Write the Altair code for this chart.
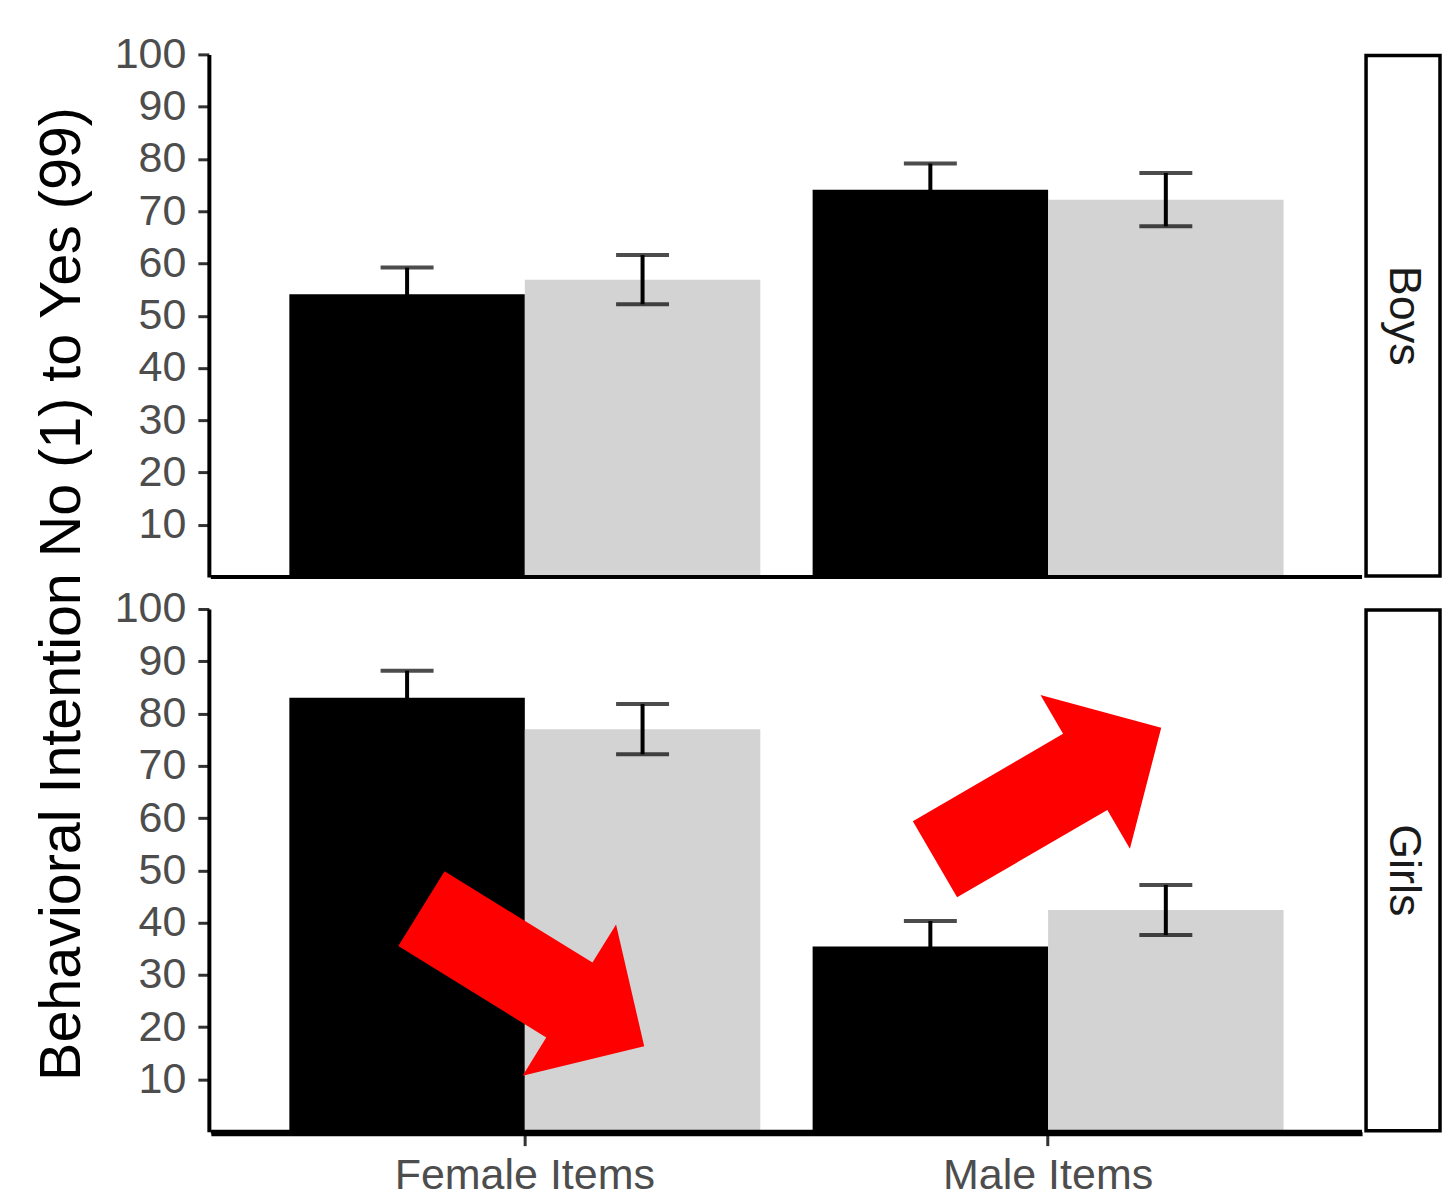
import altair as alt
import pandas as pd

# ---- data ----
panels = ["Boys", "Girls"]
items = ["Female Items", "Male Items"]
groups = ["Control", "Intervention"]          # black, light grey

# order: (Female, Control), (Female, Intervention), (Male, Control), (Male, Intervention)
boys_mean = [54.1, 56.9, 74.1, 72.2]
boys_se = [5.1, 4.7, 5.0, 5.1]
girls_mean = [83.0, 77.0, 35.4, 42.4]
girls_se = [5.2, 4.8, 4.9, 4.8]

# red annotation arrows (girls panel): anchored at item, y value
arrow_items = ["Female Items", "Male Items"]
arrow_y = [29.5, 64.7]

rows = []
for panel, means, ses in [("Boys", boys_mean, boys_se), ("Girls", girls_mean, girls_se)]:
    k = 0
    for it in items:
        for g in groups:
            m, s = means[k], ses[k]
            rows.append(dict(kind="bar", sex=panel, item=it, group=g, mean=m,
                             lo=m - s, hi=m + s))
            k += 1
for i, (it, yv) in enumerate(zip(arrow_items, arrow_y)):
    rows.append(dict(kind=f"arrow{i+1}", sex="Girls", item=it, group=groups[0],
                     mean=yv, lo=yv, hi=yv))
df = pd.DataFrame(rows)

W, H = 1152, 523
YTITLE = "Behavioral Intention No (1) to Yes (99)"

xenc = alt.X("item:N", title=None, sort=items,
             scale=alt.Scale(paddingInner=0.1, paddingOuter=0.15),
             axis=alt.Axis(labelAngle=0, tickSize=12, labelPadding=9, labelLimit=0))
xoff = alt.XOffset("group:N", sort=groups, scale=alt.Scale(paddingInner=0, paddingOuter=0))
yscale = alt.Scale(domain=[0, 100], nice=False, zero=False)
yaxis = alt.Axis(values=list(range(10, 101, 10)), title=None)

is_bar = "datum.kind == 'bar'"

bars = alt.Chart().mark_bar().encode(
    x=xenc, xOffset=xoff,
    y=alt.Y("mean:Q", scale=yscale, axis=yaxis, title=None),
    color=alt.Color("group:N", sort=groups,
                    scale=alt.Scale(domain=groups, range=["#000000", "#d3d3d3"]),
                    legend=None),
).transform_filter(is_bar)

err = alt.Chart().mark_rule(color="black", strokeWidth=4).encode(
    x=xenc, xOffset=xoff,
    y=alt.Y("lo:Q", scale=yscale, title=None), y2="hi:Q",
).transform_filter(is_bar)

cap_hi = alt.Chart().mark_tick(color="black", size=53, thickness=4, orient="horizontal").encode(
    x=xenc, xOffset=xoff, y=alt.Y("hi:Q", scale=yscale, title=None),
).transform_filter(is_bar)

cap_lo = alt.Chart().mark_tick(color="black", size=53, thickness=4, orient="horizontal").encode(
    x=xenc, xOffset=xoff, y=alt.Y("lo:Q", scale=yscale, title=None),
).transform_filter(is_bar)

one = "datum.kind == 'bar' && datum.item == 'Female Items' && datum.group == 'Control'"

baseline = alt.Chart().mark_rule(color="black", strokeWidth=4).encode(
    y=alt.Y("zero:Q", scale=yscale, title=None),
).transform_calculate(zero="0").transform_filter(one)

ARROW = "M-1,-0.336 L0.328,-0.336 L0.328,-0.679 L1,0 L0.328,0.679 L0.328,0.336 L-1,0.336 Z"

arrow1 = alt.Chart().mark_point(shape=ARROW, size=68644, angle=31.7, filled=True,
                                color="#ff0000", opacity=1, strokeWidth=0, xOffset=8).encode(
    x=xenc, y=alt.Y("mean:Q", scale=yscale, title=None),
).transform_filter("datum.kind == 'arrow1'")

arrow2 = alt.Chart().mark_point(shape=ARROW, size=68644, angle=329.8, filled=True,
                                color="#ff0000", opacity=1, strokeWidth=0).encode(
    x=xenc, y=alt.Y("mean:Q", scale=yscale, title=None),
).transform_filter("datum.kind == 'arrow2'")

strip_box = alt.Chart().mark_rect(fill="white", stroke="black", strokeWidth=3.5).encode(
    x=alt.value(W + 4), x2=alt.value(W + 78), y=alt.value(1), y2=alt.value(H - 1),
).transform_filter(one)

strip_txt = alt.Chart().mark_text(angle=90, font="Liberation Sans", fontSize=45,
                                  color="#1a1a1a", baseline="middle", align="center").encode(
    x=alt.value(W + 42), y=alt.value(H / 2), text="sex:N",
).transform_filter(one)

layered = alt.layer(bars, err, cap_hi, cap_lo, baseline, arrow1, arrow2, strip_box, strip_txt,
                    data=df).properties(width=W, height=H)

chart = layered.facet(
    row=alt.Row("sex:N", sort=panels,
                header=alt.Header(labels=False, title=YTITLE, titleOrient="left",
                                  titleAngle=-90, titleFont="Liberation Sans",
                                  titleFontSize=57.5, titleColor="black",
                                  titleFontWeight="normal", titlePadding=-46)),
    spacing=29,
).properties(
    padding={"left": 26, "top": 25, "right": 0, "bottom": 0},
    background="white",
).configure_view(strokeWidth=0).configure_axis(
    labelFont="Liberation Sans", labelFontSize=43, labelColor="#4d4d4d",
    tickColor="#333333", tickWidth=3, tickSize=11, labelPadding=12,
    domainColor="black", domainWidth=4, grid=False,
)

chart.save("out.html", embed_options={"renderer": "svg", "actions": False})
